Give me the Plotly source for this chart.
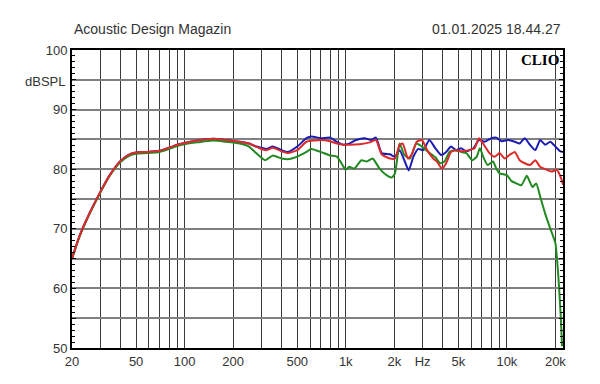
import plotly.graph_objects as go
import numpy as np

# ---- data ----
low_freq = [20, 22.2, 25.7, 30, 34.3, 40, 45.5, 50, 59, 70, 80, 90, 100, 120, 150, 180, 220]
low_main = [65.0, 68.7, 72.6, 76.2, 79.0, 81.4, 82.5, 82.8, 82.9, 83.1, 83.6, 84.1, 84.4, 84.8, 85.1, 84.9, 84.6]
low_green = [65.0, 68.6, 72.5, 76.1, 78.9, 81.2, 82.3, 82.6, 82.7, 82.9, 83.4, 83.9, 84.2, 84.5, 84.8, 84.6, 84.3]

blue_freq = [251, 278, 300, 322, 353, 400, 438, 500, 570, 611, 700, 800, 881, 970, 1050, 1160, 1310,
             1440, 1540, 1670, 1880, 2020, 2160, 2310, 2460, 2630, 2820, 3030, 3300, 3600, 3900, 4200,
             4500, 4850, 5200, 5600, 6200, 6700, 7300, 8000, 8600, 9300, 10200, 11200, 12000, 12900,
             13900, 15000, 16100, 17300, 18600, 20000, 21500, 22300]
blue_db = [84.3, 83.8, 83.6, 83.4, 83.8, 83.2, 82.9, 83.8, 85.2, 85.5, 85.2, 85.3, 84.6, 84.1, 84.3, 84.9, 85.2,
           84.9, 85.3, 82.7, 82.5, 82.1, 83.2, 81.5, 79.8, 82.1, 83.4, 83.2, 84.9, 83.5, 82.4, 82.9,
           83.8, 83.2, 83.5, 83.0, 83.5, 84.9, 84.6, 85.2, 85.3, 84.7, 84.9, 84.6, 84.3, 85.2,
           84.1, 83.2, 84.9, 84.1, 84.6, 83.8, 83.0, 82.9]

red_freq = [251, 300, 322, 353, 400, 438, 500, 570, 700, 800, 881, 970, 1050, 1220, 1410, 1540, 1670,
            1880, 2020, 2160, 2260, 2430, 2560, 2760, 2970, 3200, 3490, 3700, 3950, 4200, 4500, 4850,
            5300, 5800, 6300, 6700, 7200, 7800, 8400, 9000, 9700, 10400, 11200, 12000, 12900, 13900,
            15000, 16100, 17700, 19000, 20400, 21900, 22300]
red_db = [84.3, 83.4, 83.2, 83.6, 83.0, 82.7, 83.2, 84.6, 84.9, 84.7, 84.3, 84.1, 84.1, 84.2, 84.5, 84.9, 82.5,
          81.8, 81.8, 84.1, 84.3, 81.8, 82.4, 84.6, 84.9, 83.2, 81.8, 81.2, 80.1, 81.0, 82.9, 83.2,
          83.0, 83.2, 83.5, 85.2, 84.1, 82.7, 82.1, 82.7, 81.8, 82.4, 82.9, 81.5, 81.0, 80.7,
          81.5, 80.4, 79.9, 79.6, 79.9, 78.2, 77.4]

green_freq = [251, 278, 316, 353, 400, 447, 500, 570, 611, 700, 800, 881, 970, 1000, 1050, 1130, 1250,
              1350, 1470, 1620, 1790, 1930, 2020, 2160, 2310, 2500, 2740, 2970, 3250, 3600, 3850, 4100,
              4400, 4750, 5200, 5600, 6100, 6500, 6800, 7200, 7600, 8200, 8600, 9000, 10000, 10700,
              11500, 12300, 13300, 14400, 15200, 16100, 17300, 18500, 20000, 20500, 21000, 21600, 22000]
green_db = [83.8, 82.7, 81.5, 82.3, 81.8, 81.7, 82.1, 82.9, 83.4, 82.9, 82.3, 82.1, 80.4, 79.9, 80.4, 80.1, 81.5,
            81.3, 81.8, 80.1, 79.0, 78.6, 79.3, 84.3, 82.4, 81.8, 84.3, 83.8, 82.9, 82.0, 81.0, 81.3,
            82.9, 83.2, 82.9, 82.7, 81.5, 82.1, 83.5, 81.8, 80.7, 81.3, 80.1, 79.3, 79.0, 78.0,
            77.6, 77.3, 78.9, 77.0, 77.6, 75.4, 72.5, 70.2, 67.6, 64.8, 60.9, 55.3, 50.3]

x_tickvals = [20, 50, 100, 200, 500, 1000, 2000, 3000, 5000, 10000, 20000]
x_ticktext = ["20", "50", "100", "200", "500", "1k", "2k", "Hz", "5k", "10k", "20k"]
y_tickvals = [50, 55, 60, 65, 70, 75, 80, 85, 90, 95, 100]
y_ticktext = ["50", "", "60", "", "70", "", "80", "", "90", "", "100"]

x_min, x_max = 20, 22300
y_min, y_max = 50, 100

FONT = "Liberation Sans, Arial, sans-serif"
TXT = "#333333"

fig = go.Figure()
series = [
    ("blue", blue_freq, blue_db, low_main, "#1c1cb4"),
    ("green", green_freq, green_db, low_green, "#218a21"),
    ("red", red_freq, red_db, low_main, "#dc2a2a"),
]
for name, fr, db, low, col in series:
    fig.add_trace(go.Scatter(x=low_freq + fr, y=low + db, mode="lines", name=name,
                             line=dict(color=col, width=2, shape="spline", smoothing=0.5),
                             hoverinfo="skip"))

fig.update_layout(
    width=592, height=376,
    margin=dict(l=64, r=37, t=42, b=36),
    paper_bgcolor="white", plot_bgcolor="white",
    showlegend=False,
    font=dict(family=FONT, size=13, color=TXT),
)
fig.update_xaxes(
    type="log", range=[np.log10(x_min), np.log10(x_max)],
    tickmode="array", tickvals=x_tickvals, ticktext=x_ticktext,
    showgrid=True, gridcolor="#3a3a3a", gridwidth=1,
    ticks="", showline=True, linecolor="black", linewidth=2, mirror=True,
    zeroline=False,
    minor=dict(dtick="D1", showgrid=True, gridcolor="#3a3a3a", gridwidth=1, ticks=""),
    tickfont=dict(family=FONT, size=13, color=TXT),
)
fig.update_yaxes(
    range=[y_min, y_max],
    tickmode="array", tickvals=y_tickvals, ticktext=y_ticktext,
    showgrid=True, gridcolor="#808080", gridwidth=1.5,
    ticks="inside", ticklen=4, tickcolor="black",
    showline=True, linecolor="black", linewidth=2, mirror="allticks",
    zeroline=False,
    minor=dict(tick0=50, dtick=1, ticks="inside", ticklen=3, tickcolor="black", showgrid=False),
    tickfont=dict(family=FONT, size=13, color=TXT),
)

fig.add_annotation(text="Acoustic Design Magazin", xref="paper", yref="paper", x=0, y=1.07,
                   xanchor="left", yanchor="middle", showarrow=False,
                   font=dict(family=FONT, size=14, color=TXT))
fig.add_annotation(text="01.01.2025 18.44.27", xref="paper", yref="paper", x=1, y=1.07,
                   xanchor="right", yanchor="middle", showarrow=False,
                   font=dict(family=FONT, size=14, color=TXT))
fig.add_annotation(text="dBSPL", xref="paper", yref="y", x=0, y=94.7, xanchor="right",
                   yanchor="middle", xshift=-5, showarrow=False,
                   font=dict(family=FONT, size=13, color=TXT))
fig.add_annotation(text="<b>CLIO</b>", xref="paper", yref="paper", x=1, y=1, xanchor="right",
                   yanchor="top", xshift=-2, yshift=0, showarrow=False,
                   font=dict(family="Liberation Serif, Times New Roman, serif", size=15, color="black"))

fig.write_html("out.html")
